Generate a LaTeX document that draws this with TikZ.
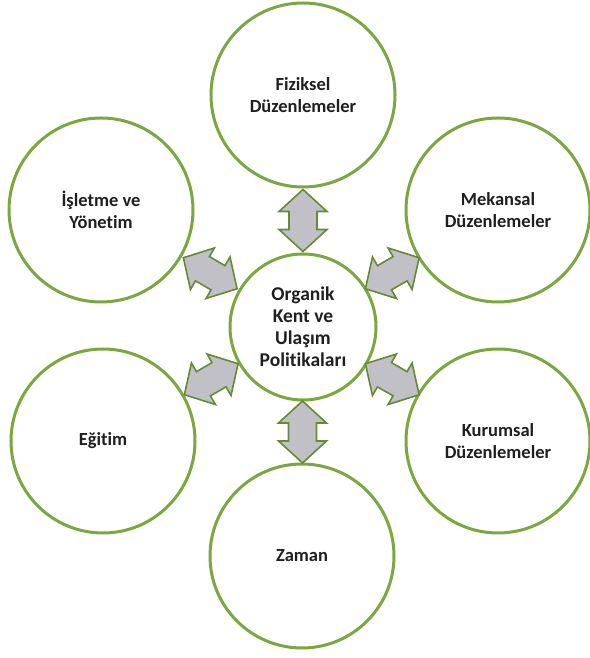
\documentclass[tikz,border=0pt]{standalone}
\usepackage{fontspec}
\setmainfont[Ligatures=NoCommon]{Carlito}
\usetikzlibrary{calc}
\definecolor{ringgreen}{RGB}{122,167,64}
\definecolor{arrowgray}{RGB}{192,192,198}
\definecolor{arrowedge}{RGB}{104,136,56}

\begin{document}
\begin{tikzpicture}[x=1pt,y=1pt,
    ring/.style={circle,draw=ringgreen,line width=3pt,fill=white,text=black!88,
                 align=center,inner sep=0pt,font=\bfseries\fontsize{18.5}{21.5}\selectfont},
    outer/.style={ring,minimum size=184pt},
    hub/.style={ring,minimum size=146pt,font=\bfseries\fontsize{19.5}{22}\selectfont},
    link/.style={fill=arrowgray,draw=arrowedge,line width=1.6pt,line join=miter},
    dblarrow/.pic={
      \path[link] (-31,0) -- (-9,24) -- (-9,14) -- (9,14) -- (9,24) -- (31,0)
                  -- (9,-24) -- (9,-14) -- (-9,-14) -- (-9,-24) -- cycle;}]
  \useasboundingbox (0,0) rectangle (589,658);

  \node[hub]   (hub) at (303,331) {Organik\\Kent ve\\Ulaşım\\Politikaları};
  \node[outer] (fiz) at (303,563) {Fiziksel\\Düzenlemeler};
  \node[outer] (isl) at (101,448) {İşletme ve\\Yönetim};
  \node[outer] (mek) at (498,448) {Mekansal\\Düzenlemeler};
  \node[outer] (egi) at (103,217) {Eğitim};
  \node[outer] (kur) at (498,217) {Kurumsal\\Düzenlemeler};
  \node[outer] (zam) at (302,102) {Zaman};

  % double arrows between hub and the outer circles
  \foreach \n/\a/\b in {fiz/90/270, isl/150/330, mek/30/210,
                        egi/210/30, kur/330/150, zam/270/90}
    \pic[rotate=\a] at ($(hub.\a)!0.5!(\n.\b)$) {dblarrow};
\end{tikzpicture}
\end{document}
